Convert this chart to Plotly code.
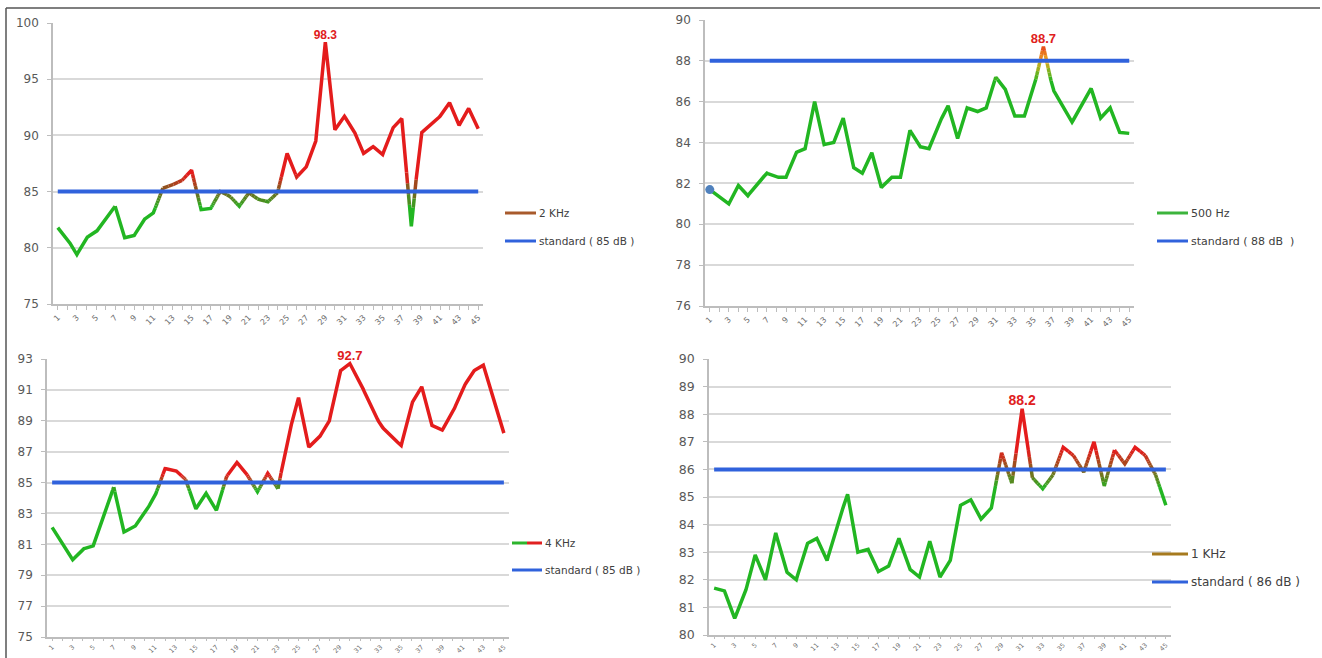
import plotly.graph_objects as go

# ---- measurement data (dB), 45 measuring points per frequency band ----
POINTS = list(range(1, 46))
TICK_POINTS = list(range(1, 46, 2))

LEVEL_2KHZ = [81.8, 80.8, 79.4, 80.9, 81.4, 82.5, 83.7, 80.9, 81.1, 82.5,
              83.1, 85.3, 85.6, 86.0, 86.9, 83.4, 83.5, 85.0, 84.6, 83.7,
              84.9, 84.3, 84.1, 84.9, 88.4, 86.3, 87.2, 89.5, 98.3, 90.5,
              91.7, 90.4, 88.4, 89.0, 88.3, 90.6, 91.5, 81.9, 90.2, 90.9,
              91.7, 92.9, 90.9, 92.4, 90.6]

LEVEL_500HZ = [81.7, 81.35, 81.0, 81.9, 81.4, 82.0, 82.5, 82.3, 82.3, 83.5,
               83.7, 86.0, 83.9, 84.0, 85.2, 82.8, 82.5, 83.5, 81.8, 82.3,
               82.3, 84.6, 83.8, 83.7, 84.9, 85.8, 84.2, 85.7, 85.5, 85.7,
               87.2, 86.6, 85.3, 85.3, 86.7, 88.7, 86.6, 85.8, 85.0, 85.8,
               86.65, 85.2, 85.7, 84.5, 84.45]

LEVEL_4KHZ = [82.1, 81.1, 80.0, 80.7, 80.9, 82.8, 84.7, 81.8, 82.1, 83.0,
              84.1, 85.9, 85.8, 85.2, 83.3, 84.3, 83.2, 85.4, 86.3, 85.5,
              84.4, 85.6, 84.6, 88.0, 90.5, 87.3, 87.9, 89.0, 92.2, 92.7,
              91.5, 90.0, 88.7, 88.0, 87.4, 90.1, 91.2, 88.7, 88.4, 89.5,
              91.1, 92.2, 92.6, 90.4, 88.2]

LEVEL_1KHZ = [81.7, 81.6, 80.6, 81.5, 82.9, 82.0, 83.7, 82.3, 82.0, 83.3,
              83.5, 82.7, 84.0, 85.1, 83.0, 83.1, 82.3, 82.5, 83.5, 82.4,
              82.1, 83.4, 82.1, 82.7, 84.7, 84.9, 84.2, 84.6, 86.6, 85.5,
              88.2, 85.7, 85.3, 85.8, 86.8, 86.5, 85.9, 87.0, 85.4, 86.7,
              86.2, 86.8, 86.5, 85.8, 84.7]

SERIES_NAMES = ["2 KHz", "500 Hz", "4 KHz", "1 KHz"]
STANDARDS = [85, 88, 85, 86]
STANDARD_LABELS = ["standard ( 85 dB )", "standard ( 88 dB  )",
                   "standard ( 85 dB )", "standard ( 86 dB )"]

W, H = 1322, 658
GREEN = (34, 182, 34)
RED = (228, 28, 28)
BLUE = "#3062dc"
GRID = "#d9d9d9"
AXIS = "#bdbdbd"
FONT = "DejaVu Sans"


def fx(px):
    return px / W


def fy(py):
    return 1 - py / H


# panel frames in pixels: (left, right, top, bottom), axis range, tick step
PANELS = [
    dict(values=LEVEL_2KHZ, box=(53, 483, 23, 304), yr=(75, 100), dt=5,
         mid=(120, 100, 30), band=1.5, lab=12, tf=12, xf=8, xl=4,
         leg=(505, 536, 213, 241, 10.5), sym=["#a85a2c"]),
    dict(values=LEVEL_500HZ, box=(705, 1134, 20, 306), yr=(76, 90), dt=2,
         mid=(235, 170, 30), band=1.0, lab=13, tf=12, xf=8, xl=4,
         leg=(1157, 1188, 213, 241, 11), sym=["#3cb43c"]),
    dict(values=LEVEL_4KHZ, box=(47, 509, 359, 637), yr=(75, 93), dt=2,
         mid=(130, 100, 30), band=0.5, lab=13, tf=12, xf=6.5, xl=2,
         leg=(512, 542, 543, 570, 10.5), sym=["#2db42d", "#e02020"]),
    dict(values=LEVEL_1KHZ, box=(709, 1171, 359, 635), yr=(80, 90), dt=1,
         mid=(140, 95, 30), band=0.7, lab=14, tf=12.5, xf=6.5, xl=2,
         leg=(1152, 1188, 554, 582, 12), sym=["#a67a1e"]),
]

NLEV = 17
SUB = 10


def level_color(lev, mid):
    t = lev / (NLEV - 1) * 2 - 1
    if t < 0:
        a, b, f = GREEN, mid, t + 1
    else:
        a, b, f = mid, RED, t
    return "rgb(%d,%d,%d)" % tuple(round(a[i] + (b[i] - a[i]) * f) for i in range(3))


def gradient_runs(xs, ys, std, band):
    """Split the polyline into runs coloured by distance from the standard."""
    runs = []
    for i in range(len(xs) - 1):
        x0, y0, x1, y1 = xs[i], ys[i], xs[i + 1], ys[i + 1]
        for k in range(SUB):
            f0, f1 = k / SUB, (k + 1) / SUB
            xa, ya = x0 + (x1 - x0) * f0, y0 + (y1 - y0) * f0
            xb, yb = x0 + (x1 - x0) * f1, y0 + (y1 - y0) * f1
            t = max(-1.0, min(1.0, ((ya + yb) / 2 - std) / band))
            lev = round((t + 1) / 2 * (NLEV - 1))
            if runs and runs[-1][0] == lev:
                runs[-1][1].append((xb, yb))
            else:
                runs.append((lev, [(xa, ya), (xb, yb)]))
    groups = {}
    for lev, pts in runs:
        gx, gy = groups.setdefault(lev, ([], []))
        if gx:
            gx.append(None)
            gy.append(None)
        gx.extend(p[0] for p in pts)
        gy.extend(p[1] for p in pts)
    return groups


fig = go.Figure()
layout = dict(width=W, height=H, margin=dict(l=0, r=0, t=0, b=0, autoexpand=False),
              paper_bgcolor="white", plot_bgcolor="white", showlegend=False,
              font=dict(family=FONT, color="#595959"))
shapes, annotations = [], []

for n, (p, name, std, std_label) in enumerate(zip(PANELS, SERIES_NAMES, STANDARDS, STANDARD_LABELS), start=1):
    sfx = "" if n == 1 else str(n)
    xa, ya = "x" + sfx, "y" + sfx
    left, right, top, bottom = p["box"]
    vals = p["values"]

    # measured level, shaded green below / red above the standard
    for lev, (gx, gy) in sorted(gradient_runs(POINTS, vals, std, p["band"]).items()):
        fig.add_trace(go.Scatter(x=gx, y=gy, mode="lines", xaxis=xa, yaxis=ya,
                                 line=dict(color=level_color(lev, p["mid"]), width=3.5),
                                 hoverinfo="skip"))

    # standard limit
    fig.add_trace(go.Scatter(x=POINTS, y=[std] * len(POINTS), mode="lines",
                             xaxis=xa, yaxis=ya, name=std_label,
                             line=dict(color=BLUE, width=4)))

    # peak value label
    i_max = max(range(len(vals)), key=lambda i: vals[i])
    fig.add_trace(go.Scatter(x=[POINTS[i_max]], y=[vals[i_max]], mode="text",
                             text=[f"{vals[i_max]}"], textposition="top center",
                             xaxis=xa, yaxis=ya, cliponaxis=False,
                             textfont=dict(family="Liberation Sans", size=p["lab"],
                                           color="#e02020", weight="bold")))

    layout["xaxis" + sfx] = dict(
        domain=[fx(left), fx(right)], anchor=ya, range=[0.5, 45.5], automargin=False,
        tickmode="array", tickvals=TICK_POINTS, ticktext=[str(v) for v in TICK_POINTS],
        tickangle=-45, tickfont=dict(size=p["xf"], color="#6e6e6e"),
        ticks="outside", ticklen=p["xl"], tickcolor=AXIS,
        minor=dict(tick0=0, dtick=1, ticks="outside", ticklen=p["xl"], tickcolor=AXIS),
        showline=True, linecolor=AXIS, linewidth=1.5, showgrid=False, zeroline=False)
    layout["yaxis" + sfx] = dict(
        domain=[fy(bottom), fy(top)], anchor=xa, range=list(p["yr"]),
        tick0=p["yr"][0], dtick=p["dt"], automargin=False,
        tickfont=dict(size=p["tf"], color="#595959"), ticks="outside", ticklen=4,
        tickcolor=AXIS, ticklabelstandoff=6,
        showline=True, linecolor=AXIS, linewidth=1.5,
        showgrid=True, gridcolor=GRID, gridwidth=2, zeroline=False)

    # legend block beside the panel
    lx0, lx1, ly1, ly2, lsize = p["leg"]
    syms = p["sym"]
    step = (lx1 - lx0) / len(syms)
    for k, c in enumerate(syms):
        shapes.append(dict(type="line", xref="paper", yref="paper",
                           x0=fx(lx0 + k * step), x1=fx(lx0 + (k + 1) * step),
                           y0=fy(ly1), y1=fy(ly1), line=dict(color=c, width=3)))
    shapes.append(dict(type="line", xref="paper", yref="paper",
                       x0=fx(lx0), x1=fx(lx1), y0=fy(ly2), y1=fy(ly2),
                       line=dict(color=BLUE, width=3)))
    for txt, yy in ((name, ly1), (std_label, ly2)):
        annotations.append(dict(xref="paper", yref="paper", x=fx(lx1 + 1), y=fy(yy),
                                text=txt, showarrow=False, xanchor="left", yanchor="middle",
                                font=dict(family=FONT, size=lsize, color="#404040")))

# first reading of the 500 Hz series is flagged with a marker
fig.add_trace(go.Scatter(x=[POINTS[0]], y=[LEVEL_500HZ[0]], mode="markers",
                         xaxis="x2", yaxis="y2",
                         marker=dict(color="#4f81bd", size=9)))

# outer frame (top and left edges)
shapes.append(dict(type="line", xref="paper", yref="paper", x0=fx(6), x1=fx(1320),
                   y0=fy(8), y1=fy(8), line=dict(color="#555555", width=1.5)))
shapes.append(dict(type="line", xref="paper", yref="paper", x0=fx(6), x1=fx(6),
                   y0=fy(8), y1=0, line=dict(color="#555555", width=1.5)))

layout["shapes"] = shapes
layout["annotations"] = annotations
fig.update_layout(**layout)
fig.write_html("out.html")
